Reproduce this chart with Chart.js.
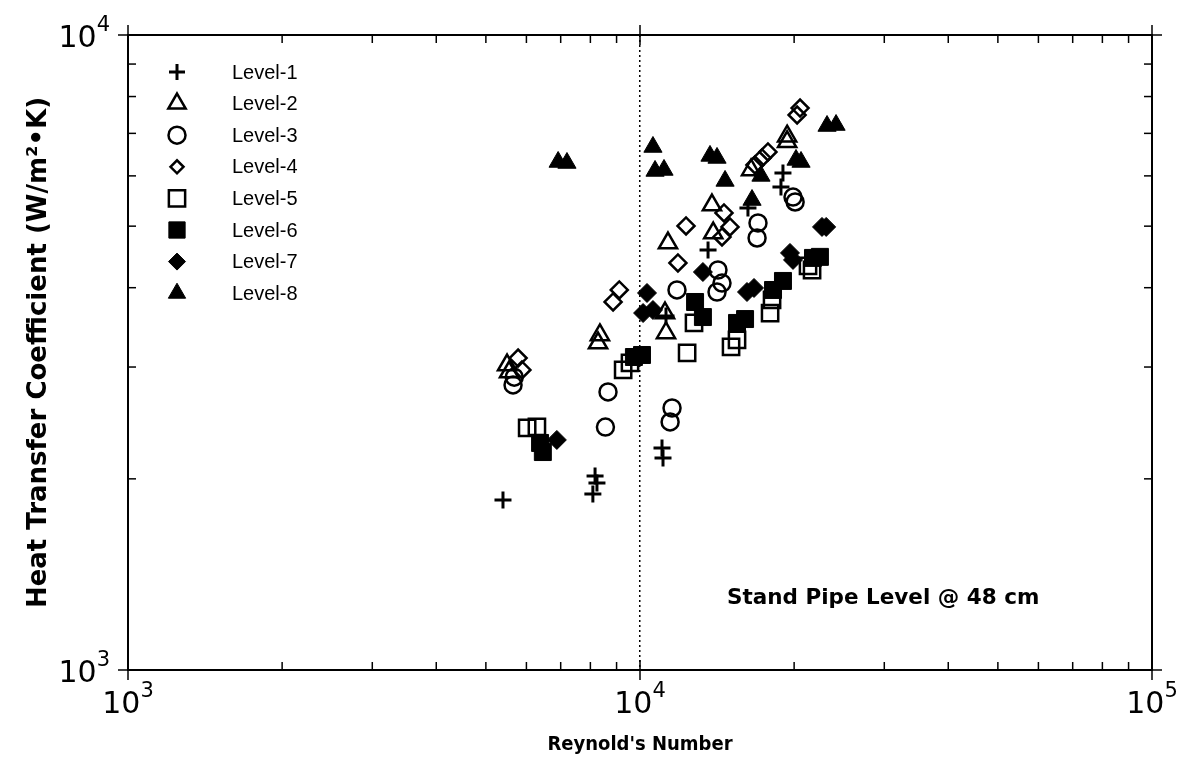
<!DOCTYPE html>
<html>
<head>
<meta charset="utf-8">
<script src="https://cdn.jsdelivr.net/npm/chart.js@4.4.1/dist/chart.umd.min.js"></script>
<style>
html,body{margin:0;padding:0;background:#fff;}
canvas{display:block;}
</style>
</head>
<body>
<canvas id="c" width="1181" height="768"></canvas>
<script>
// ---- data (Reynold's number, heat transfer coefficient) ----
const seriesNames = ['Level-1','Level-2','Level-3','Level-4','Level-5','Level-6','Level-7','Level-8'];

const level1X = [5400, 8170, 8240, 8090, 11040, 11090, 11240, 13580, 16250, 19020, 18850];
const level1Y = [1853, 2021, 1970, 1893, 2237, 2157, 3609, 4585, 5340, 6064, 5762];

const level2X = [5500, 5550, 8350, 8280, 11190, 11240, 11340, 13820, 13900, 16480, 19380, 19380];
const level2Y = [3022, 2946, 3370, 3273, 3649, 3394, 4703, 5398, 4877, 6130, 6930, 6790];

const level3X = [5650, 5680, 8660, 8560, 11550, 11450, 11810, 14200, 14460, 14140, 17000, 16930, 19900, 20090];
const level3Y = [2811, 2892, 2741, 2413, 2586, 2458, 3967, 4265, 4068, 3938, 5058, 4790, 5557, 5458];

const level4X = [5780, 5880, 8860, 9110, 11860, 12300, 14590, 14990, 14460, 16770, 17310, 17780, 20540, 20270];
const level4Y = [3099, 2968, 3798, 3967, 4375, 5004, 5245, 4986, 4808, 6242, 6403, 6544, 7674, 7482];

const level5X = [6020, 6290, 9270, 9560, 12360, 12750, 15060, 15470, 17950, 18110, 21290, 21680];
const level5Y = [2405, 2414, 2968, 3045, 3157, 3520, 3227, 3310, 3649, 3826, 4328, 4265];

const level6X = [6380, 6460, 9730, 10090, 12810, 13270, 15470, 16040, 18190, 19020, 21770, 22460];
const level6Y = [2278, 2204, 3111, 3134, 3798, 3596, 3520, 3570, 3967, 4099, 4456, 4473];

const level7X = [6880, 10320, 10140, 10600, 13270, 16180, 16700, 19630, 19900, 22670, 23100];
const level7Y = [2303, 3924, 3649, 3689, 4234, 3938, 3996, 4537, 4424, 4986, 4986];

const level8X = [6920, 7200, 10600, 10700, 11140, 13700, 14140, 14660, 16550, 17230, 20170, 20630, 23190, 24150];
const level8Y = [6310, 6287, 6663, 6108, 6130, 6450, 6403, 5891, 5497, 5999, 6357, 6310, 7189, 7215];

// ---- axis tick labels ----
const xDecades = [1000, 10000, 100000];
const xTickExp = ['3', '4', '5'];
const yDecades = [1000, 10000];
const yTickExp = ['3', '4'];
const tickBase = '10';

const xTitle = "Reynold's Number";
const yTitle = 'Heat Transfer Coefficient (W/m\u00B2\u2022K)';
const noteText = 'Stand Pipe Level @ 48 cm';

// ---- styles ----
const seriesX = [level1X, level2X, level3X, level4X, level5X, level6X, level7X, level8X];
const seriesY = [level1Y, level2Y, level3Y, level4Y, level5Y, level6Y, level7Y, level8Y];
const styles = [
  {pointStyle:'cross',    radius:8.5, legendRadius:8,   fill:false, bw:3},
  {pointStyle:'triangle', radius:10.5, legendRadius:10, fill:false, bw:2.5},
  {pointStyle:'circle',   radius:8.5, legendRadius:8.5, fill:false, bw:2.5},
  {pointStyle:'rectRot',  radius:8.5, legendRadius:6.5, fill:false, bw:2.5},
  {pointStyle:'rect',     radius:11.5, legendRadius:11.5, fill:false, bw:2.5},
  {pointStyle:'rect',     radius:12,  legendRadius:11.5, fill:true,  bw:1},
  {pointStyle:'rectRot',  radius:9.5, legendRadius:8.5, fill:true,  bw:1},
  {pointStyle:'triangle', radius:10.5, legendRadius:10, fill:true,  bw:1}
];

const datasets = seriesNames.map((name, i) => ({
  label: name,
  data: seriesX[i].map((x, j) => ({x: x, y: seriesY[i][j]})),
  pointStyle: styles[i].pointStyle,
  pointRadius: styles[i].radius,
  pointHoverRadius: styles[i].radius,
  pointBorderWidth: styles[i].bw,
  borderColor: '#000',
  backgroundColor: styles[i].fill ? '#000' : 'rgba(0,0,0,0)',
  showLine: false
}));

const FONT = "'DejaVu Sans', sans-serif";

function isDecade(v) {
  const l = Math.log10(v);
  return Math.abs(l - Math.round(l)) < 1e-9;
}

const decorPlugin = {
  id: 'decor',
  afterDraw(chart) {
    const ctx = chart.ctx;
    const {left, right, top, bottom} = chart.chartArea;
    const xs = chart.scales.x, ys = chart.scales.y;
    ctx.save();
    ctx.strokeStyle = '#000';
    ctx.fillStyle = '#000';
    // frame
    ctx.lineWidth = 2;
    ctx.strokeRect(left, top, right - left, bottom - top);
    // ticks
    ctx.lineWidth = 1.5;
    const line = (x1, y1, x2, y2) => { ctx.beginPath(); ctx.moveTo(x1, y1); ctx.lineTo(x2, y2); ctx.stroke(); };
    for (let e = 3; e < 5; e++) {
      for (let m = 1; m <= 10; m++) {
        const v = m * Math.pow(10, e);
        if (m === 10 && e !== 4) continue;
        const px = xs.getPixelForValue(v);
        const major = isDecade(v);
        const len = major ? 10 : 8;
        line(px, bottom, px, bottom - len);
        line(px, top, px, top + len);
        if (major) { line(px, bottom, px, bottom + 10); line(px, top, px, top - 10); }
      }
    }
    for (let m = 1; m <= 10; m++) {
      const v = m * 1000;
      const py = ys.getPixelForValue(v);
      const major = isDecade(v);
      const len = major ? 10 : 8;
      line(left, py, left + len, py);
      line(right, py, right - len, py);
      if (major) { line(left, py, left - 10, py); line(right, py, right + 10, py); }
    }
    // tick labels
    ctx.textBaseline = 'alphabetic';
    ctx.textAlign = 'left';
    xDecades.forEach((v, i) => {
      const px = xs.getPixelForValue(v);
      ctx.font = '30px ' + FONT;
      const w10 = ctx.measureText(tickBase).width;
      ctx.font = '21px ' + FONT;
      const we = ctx.measureText(xTickExp[i]).width;
      const sx = px - (w10 + we) / 2;
      ctx.font = '30px ' + FONT;
      ctx.fillText(tickBase, sx, bottom + 43);
      ctx.font = '21px ' + FONT;
      ctx.fillText(xTickExp[i], sx + w10, bottom + 27);
    });
    yDecades.forEach((v, i) => {
      const py = ys.getPixelForValue(v);
      ctx.font = '21px ' + FONT;
      const we = ctx.measureText(yTickExp[i]).width;
      ctx.font = '30px ' + FONT;
      const w10 = ctx.measureText(tickBase).width;
      const ex = 110 - we;
      ctx.fillText(tickBase, ex - w10, py + 12);
      ctx.font = '21px ' + FONT;
      ctx.fillText(yTickExp[i], ex, py - 4);
    });
    // legend
    const lx = 177, ltx = 232, ly0 = 72, lstep = 31.6;
    chart.data.datasets.forEach((ds, i) => {
      const y = ly0 + i * lstep;
      ctx.save();
      ctx.strokeStyle = '#000';
      ctx.fillStyle = ds.backgroundColor;
      ctx.lineWidth = ds.pointBorderWidth;
      Chart.helpers.drawPoint(ctx, {pointStyle: ds.pointStyle, radius: styles[i].legendRadius, rotation: 0, borderWidth: ds.pointBorderWidth}, lx, y);
      ctx.restore();
      ctx.font = "20px 'Liberation Sans', sans-serif";
      ctx.textBaseline = 'middle';
      ctx.fillStyle = '#000';
      ctx.fillText(ds.label, ltx, y + 1);
    });
    // annotation
    ctx.font = "bold 21.5px " + FONT;
    ctx.textBaseline = 'middle';
    ctx.fillText(noteText, 727, 598);
    ctx.restore();
  }
};

new Chart(document.getElementById('c'), {
  type: 'scatter',
  data: {datasets: datasets},
  options: {
    responsive: false,
    animation: false,
    devicePixelRatio: 1,
    layout: {padding: {left: 0, top: 35, right: 29, bottom: 0}},
    plugins: {legend: {display: false}, tooltip: {enabled: false}},
    scales: {
      x: {
        type: 'logarithmic',
        min: 1000, max: 100000,
        afterFit(s) { s.height = 98; },
        ticks: {display: false},
        border: {display: false, dash: [2, 3]},
        grid: {
          drawTicks: false,
          lineWidth: 1.5,
          color: (c) => (c.tick && Math.abs(c.tick.value - 10000) < 1e-6) ? '#000' : 'rgba(0,0,0,0)'
        },
        title: {display: true, text: xTitle, font: {family: "'Liberation Sans Narrow', 'DejaVu Sans Condensed', sans-serif", size: 20, weight: 'bold'}, color: '#000', padding: {top: 0, bottom: 11}}
      },
      y: {
        type: 'logarithmic',
        min: 1000, max: 10000,
        afterFit(s) { s.width = 128; },
        ticks: {display: false},
        border: {display: false},
        grid: {display: false},
        title: {display: true, text: yTitle, font: {family: FONT, size: 26, weight: 'bold'}, color: '#000', padding: {top: 24, bottom: 0}}
      }
    }
  },
  plugins: [decorPlugin]
});
</script>
</body>
</html>
